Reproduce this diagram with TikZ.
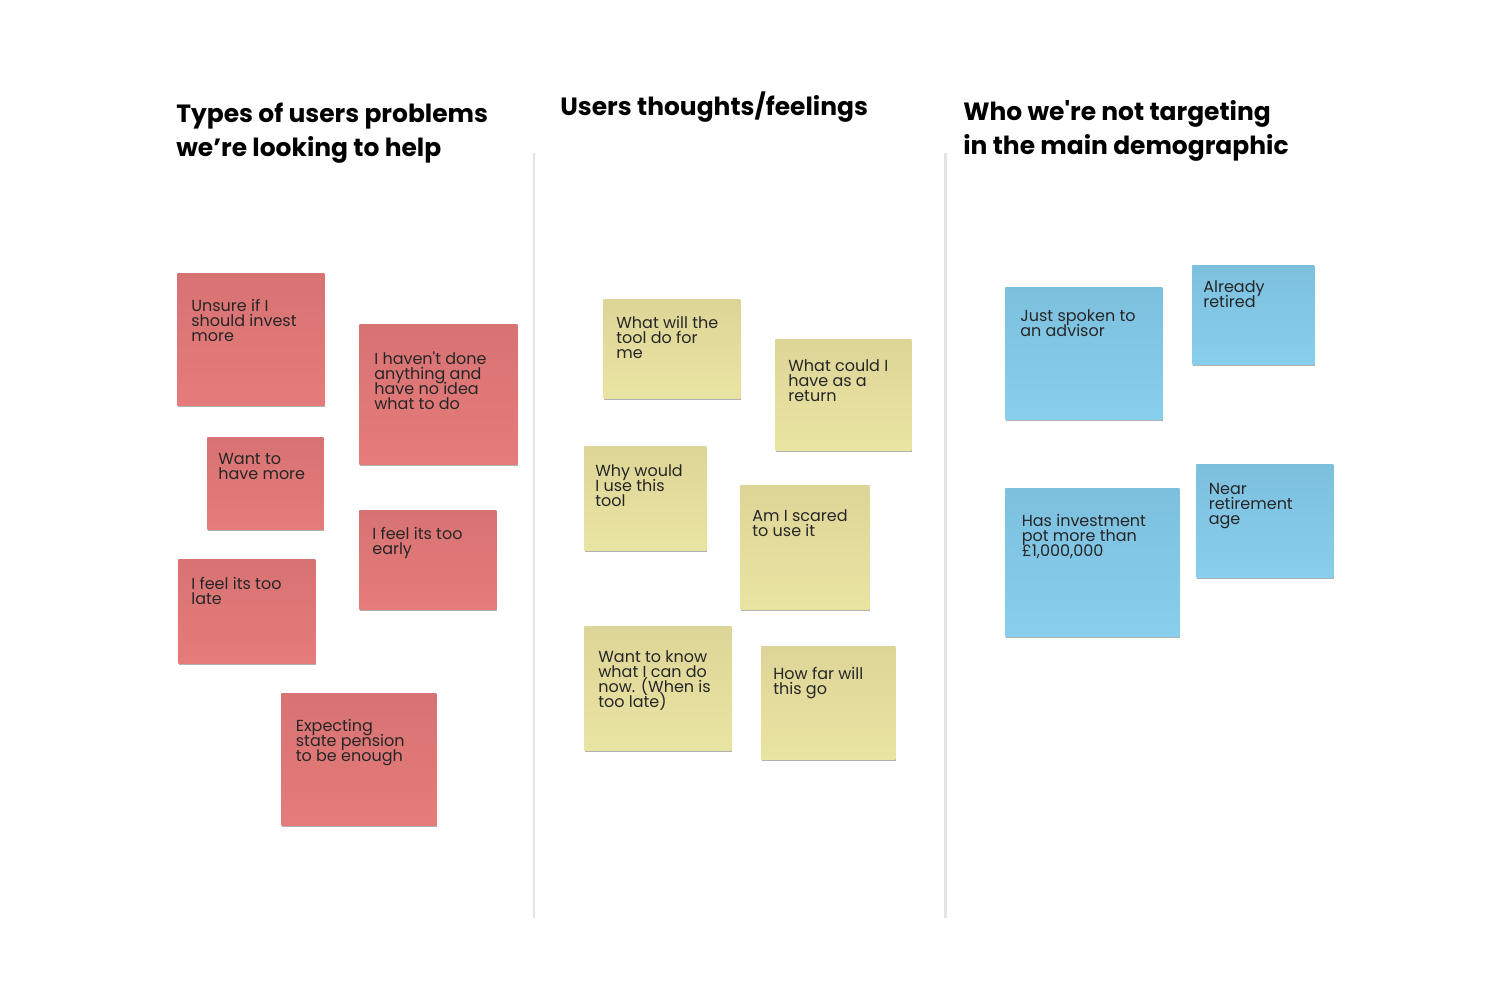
\documentclass[tikz,border=0pt]{standalone}
\usepackage{fontspec}
\setmainfont{Poppins}
\usetikzlibrary{shadows}

\definecolor{redtop}{RGB}{216,115,115}
\definecolor{redbot}{RGB}{230,123,123}
\definecolor{yeltop}{RGB}{221,213,151}
\definecolor{yelbot}{RGB}{234,228,163}
\definecolor{bluetop}{RGB}{124,192,222}
\definecolor{bluebot}{RGB}{136,206,237}
\definecolor{divider}{RGB}{228,228,228}
\newcommand{\tightlines}{\lineskiplimit -20pt\relax}

\begin{document}
\begin{tikzpicture}[x=0.02cm, y=-0.02cm,
    heading/.style={font={\bfseries\fontsize{14.2}{19.3}\selectfont\tightlines},
        align=left, anchor=base west, inner sep=0pt},
    note/.style={anchor=north west, inner sep=0pt,
        drop shadow={shadow xshift=0.3pt, shadow yshift=-1.1pt, opacity=0.3, fill=black}},
    notesize/.style 2 args={minimum width=#1*0.02cm, minimum height=#2*0.02cm},
    rednote/.style={note, top color=redtop, bottom color=redbot},
    yelnote/.style={note, top color=yeltop, bottom color=yelbot},
    bluenote/.style={note, top color=bluetop, bottom color=bluebot},
    notetext/.style={font={\fontsize{9.1}{8.5}\selectfont\tightlines},
        text=black!85, align=left, anchor=base west, inner sep=0pt}]

    % Page
    \fill[white] (0,0) rectangle (1508,1007);

    % Headings (placed at the baseline of their last line)
    \node[heading] (problems) at (176,156) {Types of users problems\\we’re looking to help};
    \node[heading] (thoughts) at (560,115) {Users thoughts/feelings};
    \node[heading] (nottarget) at (963,154.5) {Who we\textquotesingle re not targeting\\in the main demographic};

    % Dividers
    \draw[divider, line width=1.2pt] (534,153) -- (534,918);
    \draw[divider, line width=1.2pt] (945.5,153) -- (945.5,918);

    % Problems
    \node[rednote, notesize={147}{132}] (unsure) at (177,273) {};
    \node[notetext] (unsuretxt) at (191,341) {Unsure if I\\should invest\\more};
    \node[rednote, notesize={158}{140}] (nothing) at (359,324) {};
    \node[notetext] (nothingtxt) at (374,409) {I haven\textquotesingle t done\\anything and\\have no idea\\what to do};
    \node[rednote, notesize={116}{92}] (wantmore) at (207,437) {};
    \node[notetext] (wantmoretxt) at (218,479) {Want to\\have more};
    \node[rednote, notesize={137}{99}] (early) at (359,510) {};
    \node[notetext] (earlytxt) at (372,554) {I feel its too\\early};
    \node[rednote, notesize={137}{104}] (late) at (178,559) {};
    \node[notetext] (latetxt) at (191,604) {I feel its too\\late};
    \node[rednote, notesize={155}{132}] (pension) at (281,693) {};
    \node[notetext] (pensiontxt) at (295.5,761) {Expecting\\state pension\\to be enough};

    % Thoughts
    \node[yelnote, notesize={137}{99}] (forme) at (603,299) {};
    \node[notetext] (formetxt) at (616,358) {What will the\\tool do for\\me};
    \node[yelnote, notesize={136}{111}] (return) at (775,339) {};
    \node[notetext] (returntxt) at (788,401) {What could I\\have as a\\return};
    \node[yelnote, notesize={122}{104}] (whyuse) at (584,446) {};
    \node[notetext] (whyusetxt) at (595,506) {Why would\\I use this\\tool};
    \node[yelnote, notesize={129}{124}] (scared) at (740,485) {};
    \node[notetext] (scaredtxt) at (752,536) {Am I scared\\to use it};
    \node[yelnote, notesize={147}{124}] (knownow) at (584,626) {};
    \node[notetext] (knownowtxt) at (598,707) {Want to know\\what I can do\\now. (When is\\too late)};
    \node[yelnote, notesize={134}{113}] (howfar) at (761,646) {};
    \node[notetext] (howfartxt) at (773,694) {How far will\\this go};

    % Not targeting
    \node[bluenote, notesize={157}{132}] (advisor) at (1005,287) {};
    \node[notetext] (advisortxt) at (1020,336) {Just spoken to\\an advisor};
    \node[bluenote, notesize={122}{99}] (retired) at (1192,265) {};
    \node[notetext] (retiredtxt) at (1203,307) {Already\\retired};
    \node[bluenote, notesize={174}{148}] (pot) at (1005,488) {};
    \node[notetext] (pottxt) at (1021.5,556) {Has investment\\pot more than\\£1,000,000};
    \node[bluenote, notesize={137}{113}] (nearage) at (1196,464) {};
    \node[notetext] (nearagetxt) at (1208.5,524) {Near\\retirement\\age};
\end{tikzpicture}
\end{document}
